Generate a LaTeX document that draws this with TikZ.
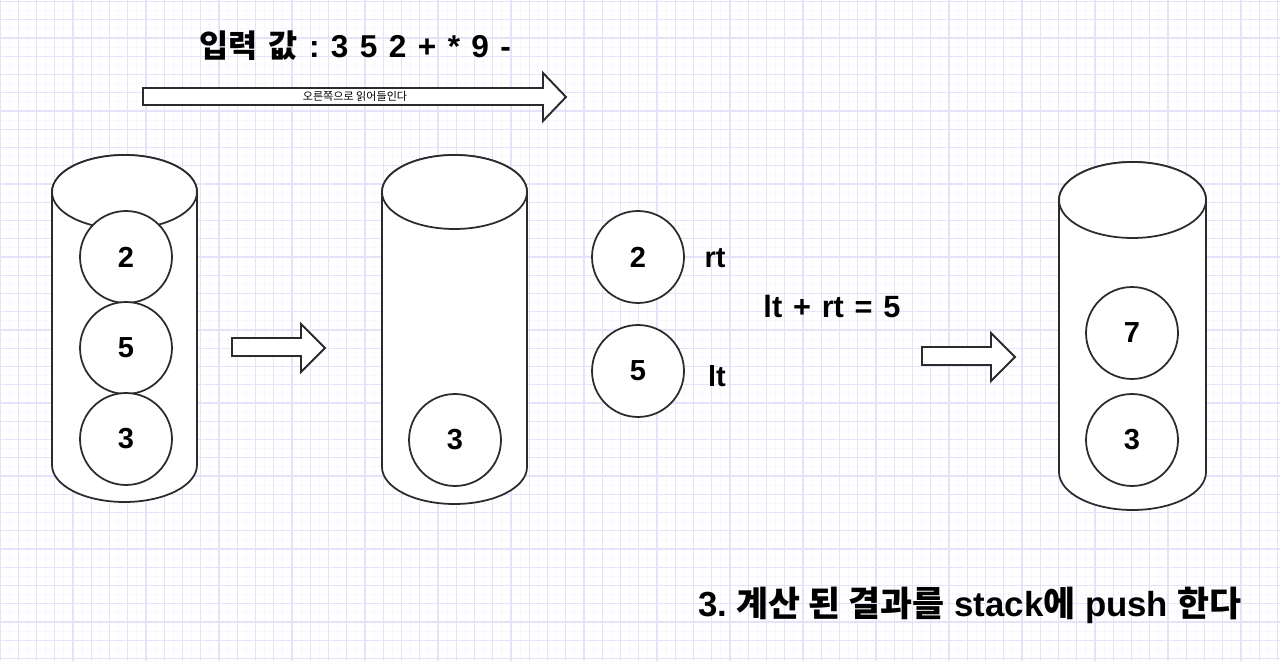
\documentclass[tikz,border=0pt]{standalone}
\usepackage{fontspec}
\setmainfont{Liberation Sans}
\newfontfamily\kor{Noto Sans CJK KR}
\usetikzlibrary{positioning}
\frenchspacing
\newcommand\widesp[1]{\spaceskip=#1em\relax}

\definecolor{gridmaj}{HTML}{E3E3FA}
\definecolor{gridmin}{HTML}{F7F7FD}
\definecolor{ink}{HTML}{2B2B2B}

\begin{document}
\begin{tikzpicture}[x=0.02cm,y=-0.02cm,
				minorln/.style={gridmin,line width=0.5pt},
				majorln/.style={gridmaj,line width=0.6pt},
				cyl/.style={draw=ink,fill=white,line width=1pt},
				ball/.style={circle,draw=ink,fill=white,line width=1pt,minimum size=1.84cm,inner sep=0pt,font=\fontsize{16.5}{18}\selectfont\bfseries},
				lbl/.style={inner sep=0pt,font=\fontsize{16.5}{18}\selectfont\bfseries},
				bigarrow/.style={draw=ink,fill=white,line width=1.1pt}
				]
				\useasboundingbox (0,0) rectangle (1280,661);
				\fill[white] (0,0) rectangle (1280,661);
				% background grid
				\foreach \i in {0,...,140} \draw[minorln] (\i*9.125,0) -- (\i*9.125,661);
				\foreach \j in {0,...,73} \draw[minorln] (0,\j*9.125+1.5) -- (1280,\j*9.125+1.5);
				\foreach \i in {0,...,70} \draw[majorln] (\i*18.25,0) -- (\i*18.25,661);
				\foreach \j in {0,...,36} \draw[majorln] (0,\j*18.25+1.5) -- (1280,\j*18.25+1.5);
				
				% input line
				\node[lbl,font={\fontsize{18}{20}\selectfont\bfseries}] (title) at (355,46) {\widesp{0.36}{\kor 입력 값} : 3 5 2 + * 9 -};
				\draw[bigarrow] (143,88) -- (543,88) -- (543,73) -- (566,97) -- (543,121) -- (543,105) -- (143,105) -- cycle;
				\node[inner sep=0pt,font=\fontsize{6.3}{7}\kor] (hint) at (355,96) {오른쪽으로 읽어들인다};
				
				% first stack
				\draw[cyl] (52,192) -- (52,465) arc[start angle=180,end angle=0,x radius=72.5,y radius=37] -- (197,192) arc[start angle=0,end angle=-180,x radius=72.5,y radius=37] -- cycle;
				\draw[cyl] (124.5,192) ellipse[x radius=72.5,y radius=37];
				\node[ball] (a2) at (126,257) {2};
				\node[ball] (a5) at (126,348) {5};
				\node[ball] (a3) at (126,439) {3};
				
				\draw[bigarrow] (232,338) -- (301,338) -- (301,324) -- (325,348) -- (301,372) -- (301,356) -- (232,356) -- cycle;
				
				% second stack
				\draw[cyl] (382,192) -- (382,467) arc[start angle=180,end angle=0,x radius=72.5,y radius=37] -- (527,192) arc[start angle=0,end angle=-180,x radius=72.5,y radius=37] -- cycle;
				\draw[cyl] (454.5,192) ellipse[x radius=72.5,y radius=37];
				\node[ball] (b3) at (455,440) {3};
				
				% popped values
				\node[ball] (rt2) at (638,257) {2};
				\node[ball] (lt5) at (638,371) {5};
				\node[lbl] (rtlbl) at (715,258) {rt};
				\node[lbl] (ltlbl) at (717,376) {lt};
				\node[lbl,font={\fontsize{17.5}{19}\selectfont\bfseries}] (sumlbl) at (832,307) {\widesp{0.35}lt + rt = 5};
				
				\draw[bigarrow] (922,347) -- (991,347) -- (991,333) -- (1015,357) -- (991,381) -- (991,365) -- (922,365) -- cycle;
				
				% third stack
				\draw[cyl] (1059,200) -- (1059,472) arc[start angle=180,end angle=0,x radius=73.5,y radius=38] -- (1206,200) arc[start angle=0,end angle=-180,x radius=73.5,y radius=38] -- cycle;
				\draw[cyl] (1132.5,200) ellipse[x radius=73.5,y radius=38];
				\node[ball] (c7) at (1132,333) {7};
				\node[ball] (c3) at (1132,440) {3};
				
				\node[inner sep=0pt,font=\fontsize{19.8}{22}\selectfont\bfseries] (note) at (970,605) {3. {\kor 계산 된 결과를} stack{\kor 에} push {\kor 한다}};
			\end{tikzpicture}
\end{document}
